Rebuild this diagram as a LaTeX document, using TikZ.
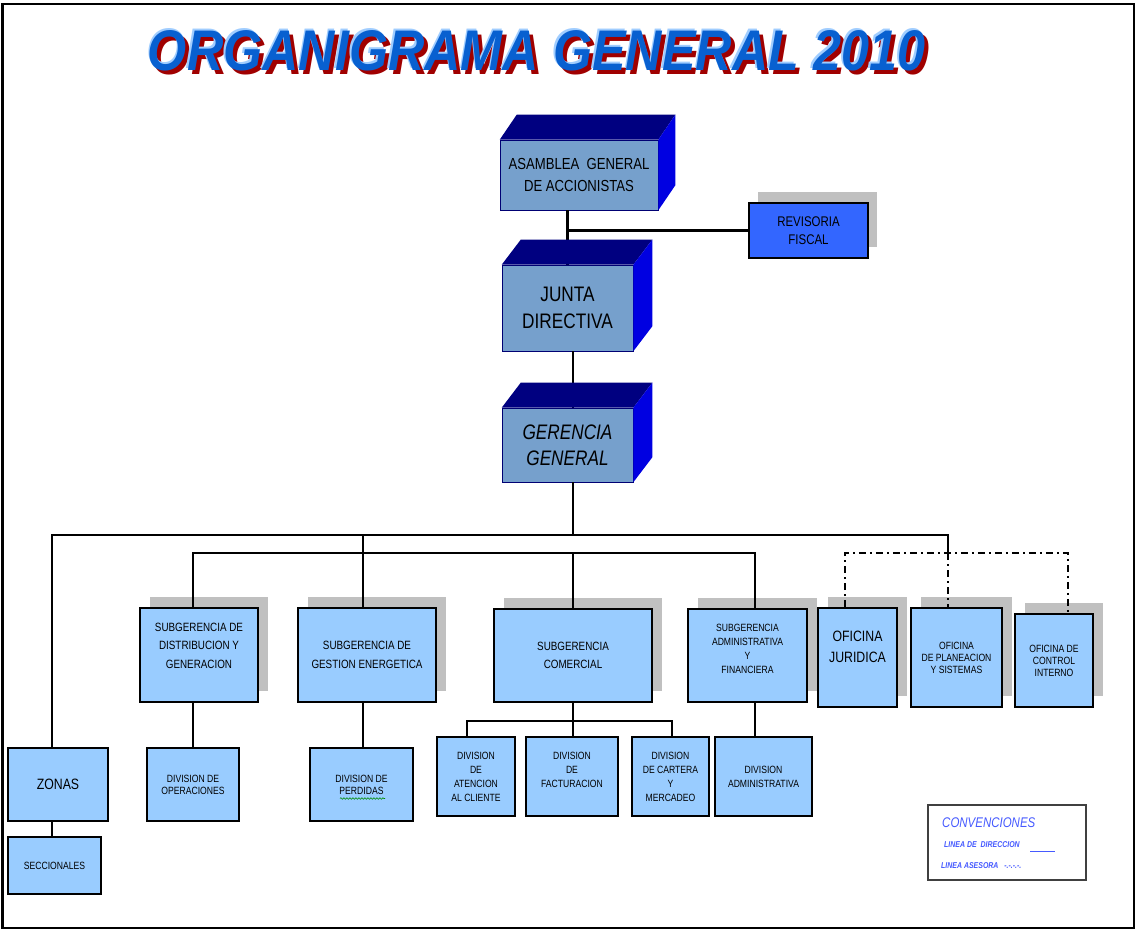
\documentclass[tikz,border=0pt]{standalone}
\usepackage{fontspec}
\setmainfont{Liberation Sans}
\newfontfamily\narrowfont[FakeStretch=0.82]{Liberation Sans}
\usetikzlibrary{shadows,decorations.pathmorphing}
\definecolor{cubefront}{RGB}{118,160,204}
\definecolor{cubetopc}{RGB}{0,0,128}
\definecolor{cubesidec}{RGB}{0,0,225}
\definecolor{boxblue}{RGB}{153,204,255}
\definecolor{revblue}{RGB}{51,102,255}
\definecolor{shadowgray}{RGB}{192,192,192}
\definecolor{titleblue}{RGB}{8,96,208}
\definecolor{titlelight}{RGB}{160,205,255}
\definecolor{titlered}{RGB}{160,0,0}
\definecolor{legendblue}{RGB}{70,90,255}
\newcommand{\cubefaces}[3]{%
\fill[cubetopc] (#1.north west) -- ++(#2,-#3) -- ([shift={(#2,-#3)}]#1.north east) -- (#1.north east) -- cycle;
\fill[cubesidec] (#1.north east) -- ++(#2,-#3) -- ([shift={(#2,-#3)}]#1.south east) -- (#1.south east) -- cycle;}
\newcommand{\titletext}{\resizebox{777pt}{40pt}{\bfseries\itshape ORGANIGRAMA GENERAL 2010}}
\newcommand{\titlelayers}{%
\makebox[0pt][l]{\hspace*{4pt}\raisebox{-4.5pt}{\color{titlered}\titletext}}%
\makebox[0pt][l]{\hspace*{-1.5pt}\raisebox{1.5pt}{\color{titlelight}\titletext}}%
{\color{titleblue}\titletext}}
\begin{document}
\begin{tikzpicture}[x=1pt, y=-1pt,
cube/.style={draw=blue!45!black, line width=0.6pt, fill=cubefront, inner sep=0pt, align=center, font=\narrowfont\fontsize{16}{22}\selectfont},
unit/.style={draw, line width=1.6pt, fill=boxblue, inner sep=0pt, align=center, font=\narrowfont\fontsize{12}{18.5}\selectfont},
grayshadow/.style={drop shadow={shadow xshift=10pt, shadow yshift=11pt, fill=shadowgray, opacity=1}},
small/.style={font=\narrowfont\fontsize{10.5}{14}\selectfont},
link/.style={line width=2.8pt},
asesora/.style={line width=2.4pt, dash pattern=on 7pt off 4pt on 2pt off 4pt},
legend/.style={text=legendblue, inner sep=0pt, anchor=west}]
\useasboundingbox (0,0) rectangle (1137,931);
\draw[line width=2.5pt] (2.5,4) rectangle (1134,928);

\node[inner sep=0pt] (title) at (536.5,52) {\titlelayers};

\node[cube, minimum width=158pt, minimum height=70pt] (asamblea) at (579,175) {\rule{0pt}{8pt}ASAMBLEA\ \ GENERAL\\DE ACCIONISTAS};
\node[cube, minimum width=131pt, minimum height=86pt, font=\narrowfont\fontsize{21}{27}\selectfont] (junta) at (567.5,308) {JUNTA\\DIRECTIVA};
\node[cube, minimum width=131pt, minimum height=74pt, font=\narrowfont\itshape\fontsize{21}{26}\selectfont] (gerencia) at (567.5,445) {GERENCIA\\GENERAL};
\node[unit, fill=revblue, minimum width=119pt, minimum height=55pt, font=\narrowfont\fontsize{14}{18}\selectfont, drop shadow={shadow xshift=9pt, shadow yshift=11pt, fill=shadowgray, opacity=1}] (revisoria) at (808.5,230.5) {REVISORIA\\FISCAL};

\node[unit, grayshadow, minimum width=118pt, minimum height=94pt] (subdis) at (199,655) {SUBGERENCIA DE\\DISTRIBUCION Y\\GENERACION\\\mbox{}};
\node[unit, grayshadow, minimum width=138pt, minimum height=94pt] (subges) at (367,655) {SUBGERENCIA DE\\GESTION ENERGETICA};
\node[unit, grayshadow, minimum width=158pt, minimum height=93pt] (subcom) at (573,655.5) {SUBGERENCIA\\COMERCIAL};
\node[unit, grayshadow, small, minimum width=119pt, minimum height=93pt] (subadm) at (747.5,655.5) {SUBGERENCIA\\ADMINISTRATIVA\\Y\\FINANCIERA\\\mbox{}};
\node[unit, grayshadow, minimum width=79pt, minimum height=99pt, font=\narrowfont\fontsize{15}{21}\selectfont] (juri) at (857.5,657.5) {OFICINA\\JURIDICA\\\mbox{}};
\node[unit, grayshadow, minimum width=91pt, minimum height=99pt, font=\narrowfont\fontsize{10.5}{12}\selectfont] (plan) at (956.5,657.5) {OFICINA\\DE PLANEACION\\Y SISTEMAS};
\node[unit, grayshadow, minimum width=78pt, minimum height=93pt, font=\narrowfont\fontsize{10.5}{12}\selectfont] (control) at (1054,660.5) {OFICINA DE\\CONTROL\\INTERNO};

\node[unit, minimum width=100pt, minimum height=73pt, font=\narrowfont\fontsize{15}{20}\selectfont] (zonas) at (58,784.5) {ZONAS};
\node[unit, small, minimum width=93pt, minimum height=57pt] (secc) at (54.5,865.5) {SECCIONALES};
\node[unit, small, minimum width=92pt, minimum height=73pt, font=\narrowfont\fontsize{10.5}{12}\selectfont] (opera) at (193,784.5) {DIVISION DE\\OPERACIONES};
\node[unit, small, minimum width=103pt, minimum height=73pt, font=\narrowfont\fontsize{10.5}{12}\selectfont] (perdidas) at (361.5,784.5) {DIVISION DE\\PERDIDAS};
\node[unit, small, minimum width=78pt, minimum height=79pt] (atencion) at (476,776.5) {DIVISION\\DE\\ATENCION\\AL CLIENTE};
\node[unit, small, minimum width=92pt, minimum height=79pt] (factura) at (572,776.5) {DIVISION\\DE\\FACTURACION\\\mbox{}};
\node[unit, small, minimum width=77pt, minimum height=79pt] (cartera) at (670.5,776.5) {DIVISION\\DE CARTERA\\Y\\MERCADEO};
\node[unit, small, minimum width=97pt, minimum height=79pt] (divadm) at (763.5,776.5) {DIVISION\\ADMINISTRATIVA};

\node[draw=black!75, line width=1.4pt, fill=white, minimum width=158pt, minimum height=75pt] (conv) at (1007,842.5) {};
\node[legend, font=\narrowfont\itshape\fontsize{14}{16}\selectfont] (convtitle) at (942,823) {CONVENCIONES};
\node[legend, font=\narrowfont\bfseries\itshape\fontsize{8.5}{10}\selectfont] (ldir) at (944,845) {LINEA DE\ \ DIRECCION};
\node[legend, font=\narrowfont\bfseries\itshape\fontsize{8.5}{10}\selectfont] (lase) at (941,866) {LINEA ASESORA\ \ \ -.-.-.-.};
\draw[legendblue, line width=0.9pt] (1030,851) -- (1055,851);
\draw[green!55!black, line width=0.6pt, decorate, decoration={snake, amplitude=0.8pt, segment length=3pt}] (340,798.5) -- (385,798.5);

\coordinate (tl) at (52,535);
\coordinate (ase) at (948,535);
\coordinate (gx) at (363,535);
\coordinate (gm) at (573,535);
\coordinate (sl) at (193,553);
\coordinate (sr) at (755,553);
\coordinate (al) at (845,553);
\coordinate (ar) at (1068,553);
\coordinate (cl) at (467,721);
\coordinate (cr) at (672,721);

\draw[link] (junta.north |- asamblea.south) -- (junta.north);
\draw[link] (junta.north |- revisoria.west) -- (revisoria.west);
\draw[link] (gm |- junta.south) -- (gm |- gerencia.north);
\draw[link] (gm |- gerencia.south) -- (gm);
\draw[link] (tl |- zonas.north) -- (tl) -- (ase) -- (ase |- al);
\draw[link] (tl |- zonas.south) -- (tl |- secc.north);
\draw[link] (gx |- subges.north) -- (gx);
\draw[link] (sl |- subdis.north) -- (sl) -- (sr) -- (sr |- subadm.north);
\draw[link] (subcom.north) -- (subcom.north |- sl);
\draw[link] (sl |- subdis.south) -- (sl |- opera.north);
\draw[link] (gx |- subges.south) -- (gx |- perdidas.north);
\draw[link] (subcom.south) -- (subcom.south |- factura.north);
\draw[link] (cl |- atencion.north) -- (cl) -- (cr) -- (cr |- cartera.north);
\draw[link] (sr |- subadm.south) -- (sr |- divadm.north);
\draw[asesora] (al |- juri.north) -- (al) -- (ar) -- (ar |- control.north);
\draw[asesora] (ase |- al) -- (ase |- plan.north);

\cubefaces{asamblea}{17}{25}
\cubefaces{junta}{19}{25}
\cubefaces{gerencia}{19}{25}
\end{tikzpicture}
\end{document}
